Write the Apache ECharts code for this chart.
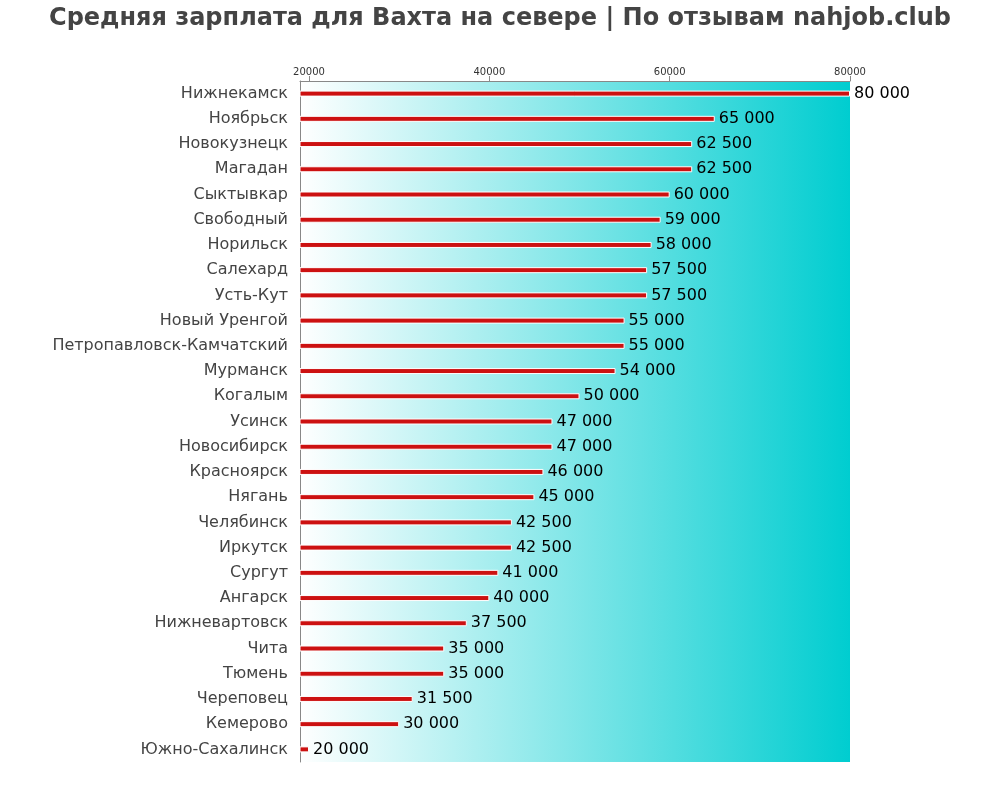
<!DOCTYPE html>
<html><head><meta charset="utf-8">
<script src="https://cdn.jsdelivr.net/npm/echarts@6/dist/echarts.min.js"></script>
<style>html,body{margin:0;padding:0;background:#fff}#c{width:1000px;height:800px}</style>
</head><body><div id="c"></div>
<script>
const cities = ["Нижнекамск","Ноябрьск","Новокузнецк","Магадан","Сыктывкар","Свободный","Норильск","Салехард","Усть-Кут","Новый Уренгой","Петропавловск-Камчатский","Мурманск","Когалым","Усинск","Новосибирск","Красноярск","Нягань","Челябинск","Иркутск","Сургут","Ангарск","Нижневартовск","Чита","Тюмень","Череповец","Кемерово","Южно-Сахалинск"];
const salaries = [80000,65000,62500,62500,60000,59000,58000,57500,57500,55000,55000,54000,50000,47000,47000,46000,45000,42500,42500,41000,40000,37500,35000,35000,31500,30000,20000];
const xTicks = [20000,40000,60000,80000];
const titleText = "Средняя зарплата для Вахта на севере | По отзывам nahjob.club";

const chart = echarts.init(document.getElementById('c'));
const fmt = v => String(v).replace(/\B(?=(\d{3})+(?!\d))/g, ' ');
chart.setOption({
  animation: false,
  title: {text: titleText, left: 'center', top: 2,
    textStyle: {fontFamily: 'DejaVu Sans', fontWeight: 'bold', fontSize: 24, color: '#444'}},
  grid: {left: 300, right: 150, top: 81, bottom: 38, show: true, borderWidth: 0,
    backgroundColor: new echarts.graphic.LinearGradient(0, 0, 1, 0, [
      {offset: 0, color: '#ffffff'}, {offset: 1, color: '#00cdd0'}])},
  xAxis: {type: 'value', position: 'top', min: 19000, max: 80000,
    axisLine: {show: true, lineStyle: {color: '#888'}},
    axisTick: {show: true, customValues: xTicks, length: 5, lineStyle: {color: '#888'}},
    axisLabel: {customValues: xTicks, fontSize: 10, color: '#333', fontFamily: 'DejaVu Sans', margin: 4,
      formatter: v => String(v)},
    splitLine: {show: false}},
  yAxis: {type: 'category', data: cities, inverse: true,
    axisLine: {show: true, lineStyle: {color: '#888'}},
    axisTick: {show: false},
    axisLabel: {fontSize: 16, color: '#444', fontFamily: 'DejaVu Sans', margin: 12}},
  series: [{type: 'bar', data: salaries, barWidth: 6,
    itemStyle: {color: '#cc1111', borderColor: '#ffffff', borderWidth: 1},
    label: {show: true, position: 'right', distance: 4, color: '#000', fontSize: 16,
      fontFamily: 'DejaVu Sans', formatter: p => fmt(p.value)}}]
});
</script></body></html>
